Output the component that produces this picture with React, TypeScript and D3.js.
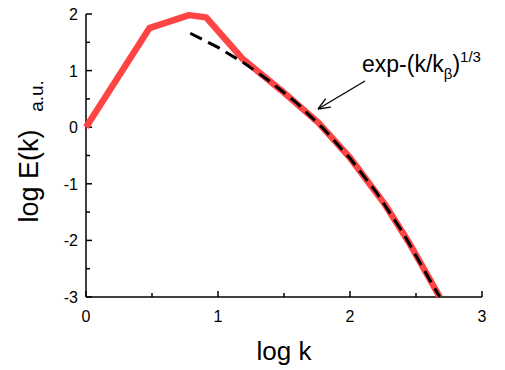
import React from 'react'
import * as d3 from 'd3'

// measured spectrum (log k, log E)
const specX = [0, 0.48, 0.78, 0.91, 1.19, 1.48, 1.76, 2.0, 2.26, 2.45, 2.68]
const specY = [0, 1.75, 1.98, 1.94, 1.2, 0.65, 0.08, -0.54, -1.35, -2.05, -3.0]

// stretched exponential fit exp-(k/kβ)^1/3
const fitX = [0.79, 1.0, 1.2, 1.4, 1.6, 1.8, 2.0, 2.2, 2.4, 2.6, 2.68]
const fitY = [1.66, 1.41, 1.13, 0.8, 0.42, -0.03, -0.55, -1.15, -1.86, -2.68, -3.0]

const xTicks = [0, 1, 2, 3]
const xMinor = [0.5, 1.5, 2.5]
const yTicks = [-3, -2, -1, 0, 1, 2]
const yMinor = [-2.5, -1.5, -0.5, 0.5, 1.5]

const W = 505
const H = 370
const font = "'Liberation Sans', Arial, sans-serif"

const App: React.FC = () => {
  const x = d3.scaleLinear().domain([0, 3]).range([86, 482])
  const y = d3.scaleLinear().domain([-3, 2]).range([297, 14])

  const line = d3.line<[number, number]>()
    .x(d => x(d[0]))
    .y(d => y(d[1]))

  const spec = specX.map((v, i) => [v, specY[i]] as [number, number])
  const fit = fitX.map((v, i) => [v, fitY[i]] as [number, number])

  // arrow pointing at the fit curve
  const ax0 = 365, ay0 = 81, ax1 = 318, ay1 = 109
  const ang = Math.atan2(ay1 - ay0, ax1 - ax0)
  const head = (da: number) =>
    `M${ax1 - 13 * Math.cos(ang + da)},${ay1 - 13 * Math.sin(ang + da)}L${ax1},${ay1}`

  return (
    <svg width={W} height={H} style={{ position: 'absolute', left: 0, top: 0, background: '#fff' }}>
      {/* axes */}
      <g stroke="#000" strokeWidth={1.5} fill="none">
        <line x1={x(0)} x2={x(3)} y1={y(-3)} y2={y(-3)} />
        <line x1={x(0)} x2={x(0)} y1={y(-3)} y2={y(2)} />
        {xTicks.map(t => <line key={'xt' + t} x1={x(t)} x2={x(t)} y1={y(-3)} y2={y(-3) - 6} />)}
        {xMinor.map(t => <line key={'xm' + t} x1={x(t)} x2={x(t)} y1={y(-3)} y2={y(-3) - 4} />)}
        {yTicks.map(t => <line key={'yt' + t} x1={x(0)} x2={x(0) + 6} y1={y(t)} y2={y(t)} />)}
        {yMinor.map(t => <line key={'ym' + t} x1={x(0)} x2={x(0) + 4} y1={y(t)} y2={y(t)} />)}
      </g>
      <g fontFamily={font} fontSize={16} fill="#000">
        {xTicks.map(t => (
          <text key={'xl' + t} x={x(t)} y={322} textAnchor="middle">{t}</text>
        ))}
        {yTicks.map(t => (
          <text key={'yl' + t} x={78} y={y(t) + 6} textAnchor="end">{t}</text>
        ))}
      </g>

      {/* data */}
      <path d={line(spec) ?? ''} fill="none" stroke="#ff4444" strokeWidth={6.5} strokeLinejoin="round" />
      <path d={line(fit) ?? ''} fill="none" stroke="#000" strokeWidth={3} strokeDasharray="13,7" />

      {/* annotation */}
      <g stroke="#000" strokeWidth={1.3} fill="none">
        <line x1={ax0} y1={ay0} x2={ax1} y2={ay1} />
        <path d={head(0.4) + head(-0.4)} />
      </g>
      <text x={362} y={72} fontFamily={font} fontSize={23} fill="#000">
        exp-(k/k
        <tspan fontSize={15} dy={7}>β</tspan>
        <tspan dy={-7}>)</tspan>
        <tspan fontSize={15} dy={-10}>1/3</tspan>
      </text>

      {/* axis titles */}
      <text x={x(1.5)} y={360} textAnchor="middle" fontFamily={font} fontSize={26} fill="#000">log k</text>
      <text transform={`translate(38,${176}) rotate(-90)`} textAnchor="middle" fontFamily={font} fontSize={27} fill="#000">log E(k)</text>
      <text transform={`translate(43,${96}) rotate(-90)`} textAnchor="middle" fontFamily={font} fontSize={19} fill="#000">a.u.</text>
    </svg>
  )
}

export default App
